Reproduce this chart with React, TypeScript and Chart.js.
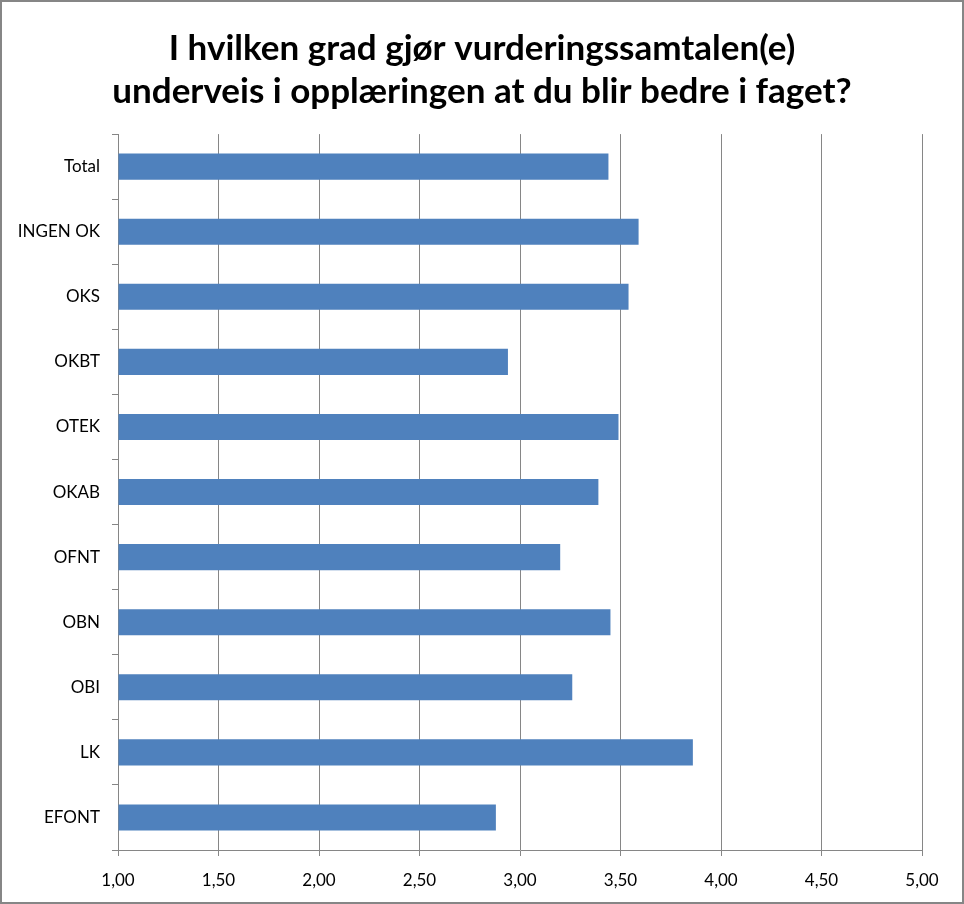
import React, { useEffect, useRef } from "react";
import { Chart, registerables } from "chart.js";

Chart.register(...registerables);

const categories = ["Total", "INGEN OK", "OKS", "OKBT", "OTEK", "OKAB", "OFNT", "OBN", "OBI", "LK", "EFONT"];
const values = [3.44, 3.59, 3.54, 2.94, 3.49, 3.39, 3.2, 3.45, 3.26, 3.86, 2.88];
const titleLines = ["I hvilken grad gjør vurderingssamtalen(e)", "underveis i opplæringen at du blir bedre i faget?"];
const xMin = 1;
const xMax = 5;
const xStep = 0.5;

const borderPlugin = {
  id: "frameBorder",
  afterLayout(chart: any) {
    const tb = chart.titleBlock;
    if (tb) {
      tb.left = 0;
      tb.right = chart.width;
      tb.width = chart.width;
    }
  },
  afterDraw(chart: any) {
    const ctx = chart.ctx;
    ctx.save();
    ctx.strokeStyle = "#868686";
    ctx.lineWidth = 2;
    ctx.strokeRect(1, 1, chart.width - 2, chart.height - 2);
    ctx.restore();
  },
};

export default function App() {
  const ref = useRef<HTMLCanvasElement | null>(null);
  useEffect(() => {
    if (!ref.current) return;
    const chart = new Chart(ref.current, {
      type: "bar",
      data: {
        labels: categories,
        datasets: [
          {
            data: values,
            backgroundColor: "#4F81BD",
            barPercentage: 0.4,
            categoryPercentage: 1,
            base: xMin,
          } as any,
        ],
      },
      options: {
        indexAxis: "y",
        animation: false,
        responsive: false,
        maintainAspectRatio: false,
        layout: { padding: { top: 0, right: 42, bottom: 0, left: 0 } },
        plugins: {
          legend: { display: false },
          tooltip: { enabled: false },
          title: {
            display: true,
            text: titleLines,
            color: "#000",
            font: { family: "Lato", size: 35, weight: "bold", lineHeight: 1.23 },
            padding: { top: 27, bottom: 21 },
          },
        },
        scales: {
          x: {
            min: xMin,
            max: xMax,
            ticks: {
              stepSize: xStep,
              color: "#000",
              font: { family: "Lato", size: 17 },
              padding: 14,
              maxRotation: 0,
              callback: (v: any) => Number(v).toFixed(2).replace(".", ","),
            },
            grid: { color: "#868686", lineWidth: 1, tickLength: 6, drawTicks: true },
            border: { display: true, color: "#868686" },
            afterFit: (s: any) => {
              s.height = 54;
            },
          },
          y: {
            offset: true,
            ticks: {
              color: "#000",
              font: { family: "Lato", size: 17 },
              padding: 12,
            },
            grid: { offset: true, drawOnChartArea: false, drawTicks: true, tickLength: 6, color: "#868686" },
            border: { display: true, color: "#868686" },
            afterFit: (s: any) => {
              s.width = 118;
            },
          },
        },
      },
      plugins: [borderPlugin],
    });
    return () => chart.destroy();
  }, []);
  return (
    <div style={{ position: "fixed", left: 0, top: 0, width: 964, height: 904, background: "#fff" }}>
      <canvas ref={ref} width={964} height={904} style={{ display: "block", width: 964, height: 904 }} />
    </div>
  );
}
